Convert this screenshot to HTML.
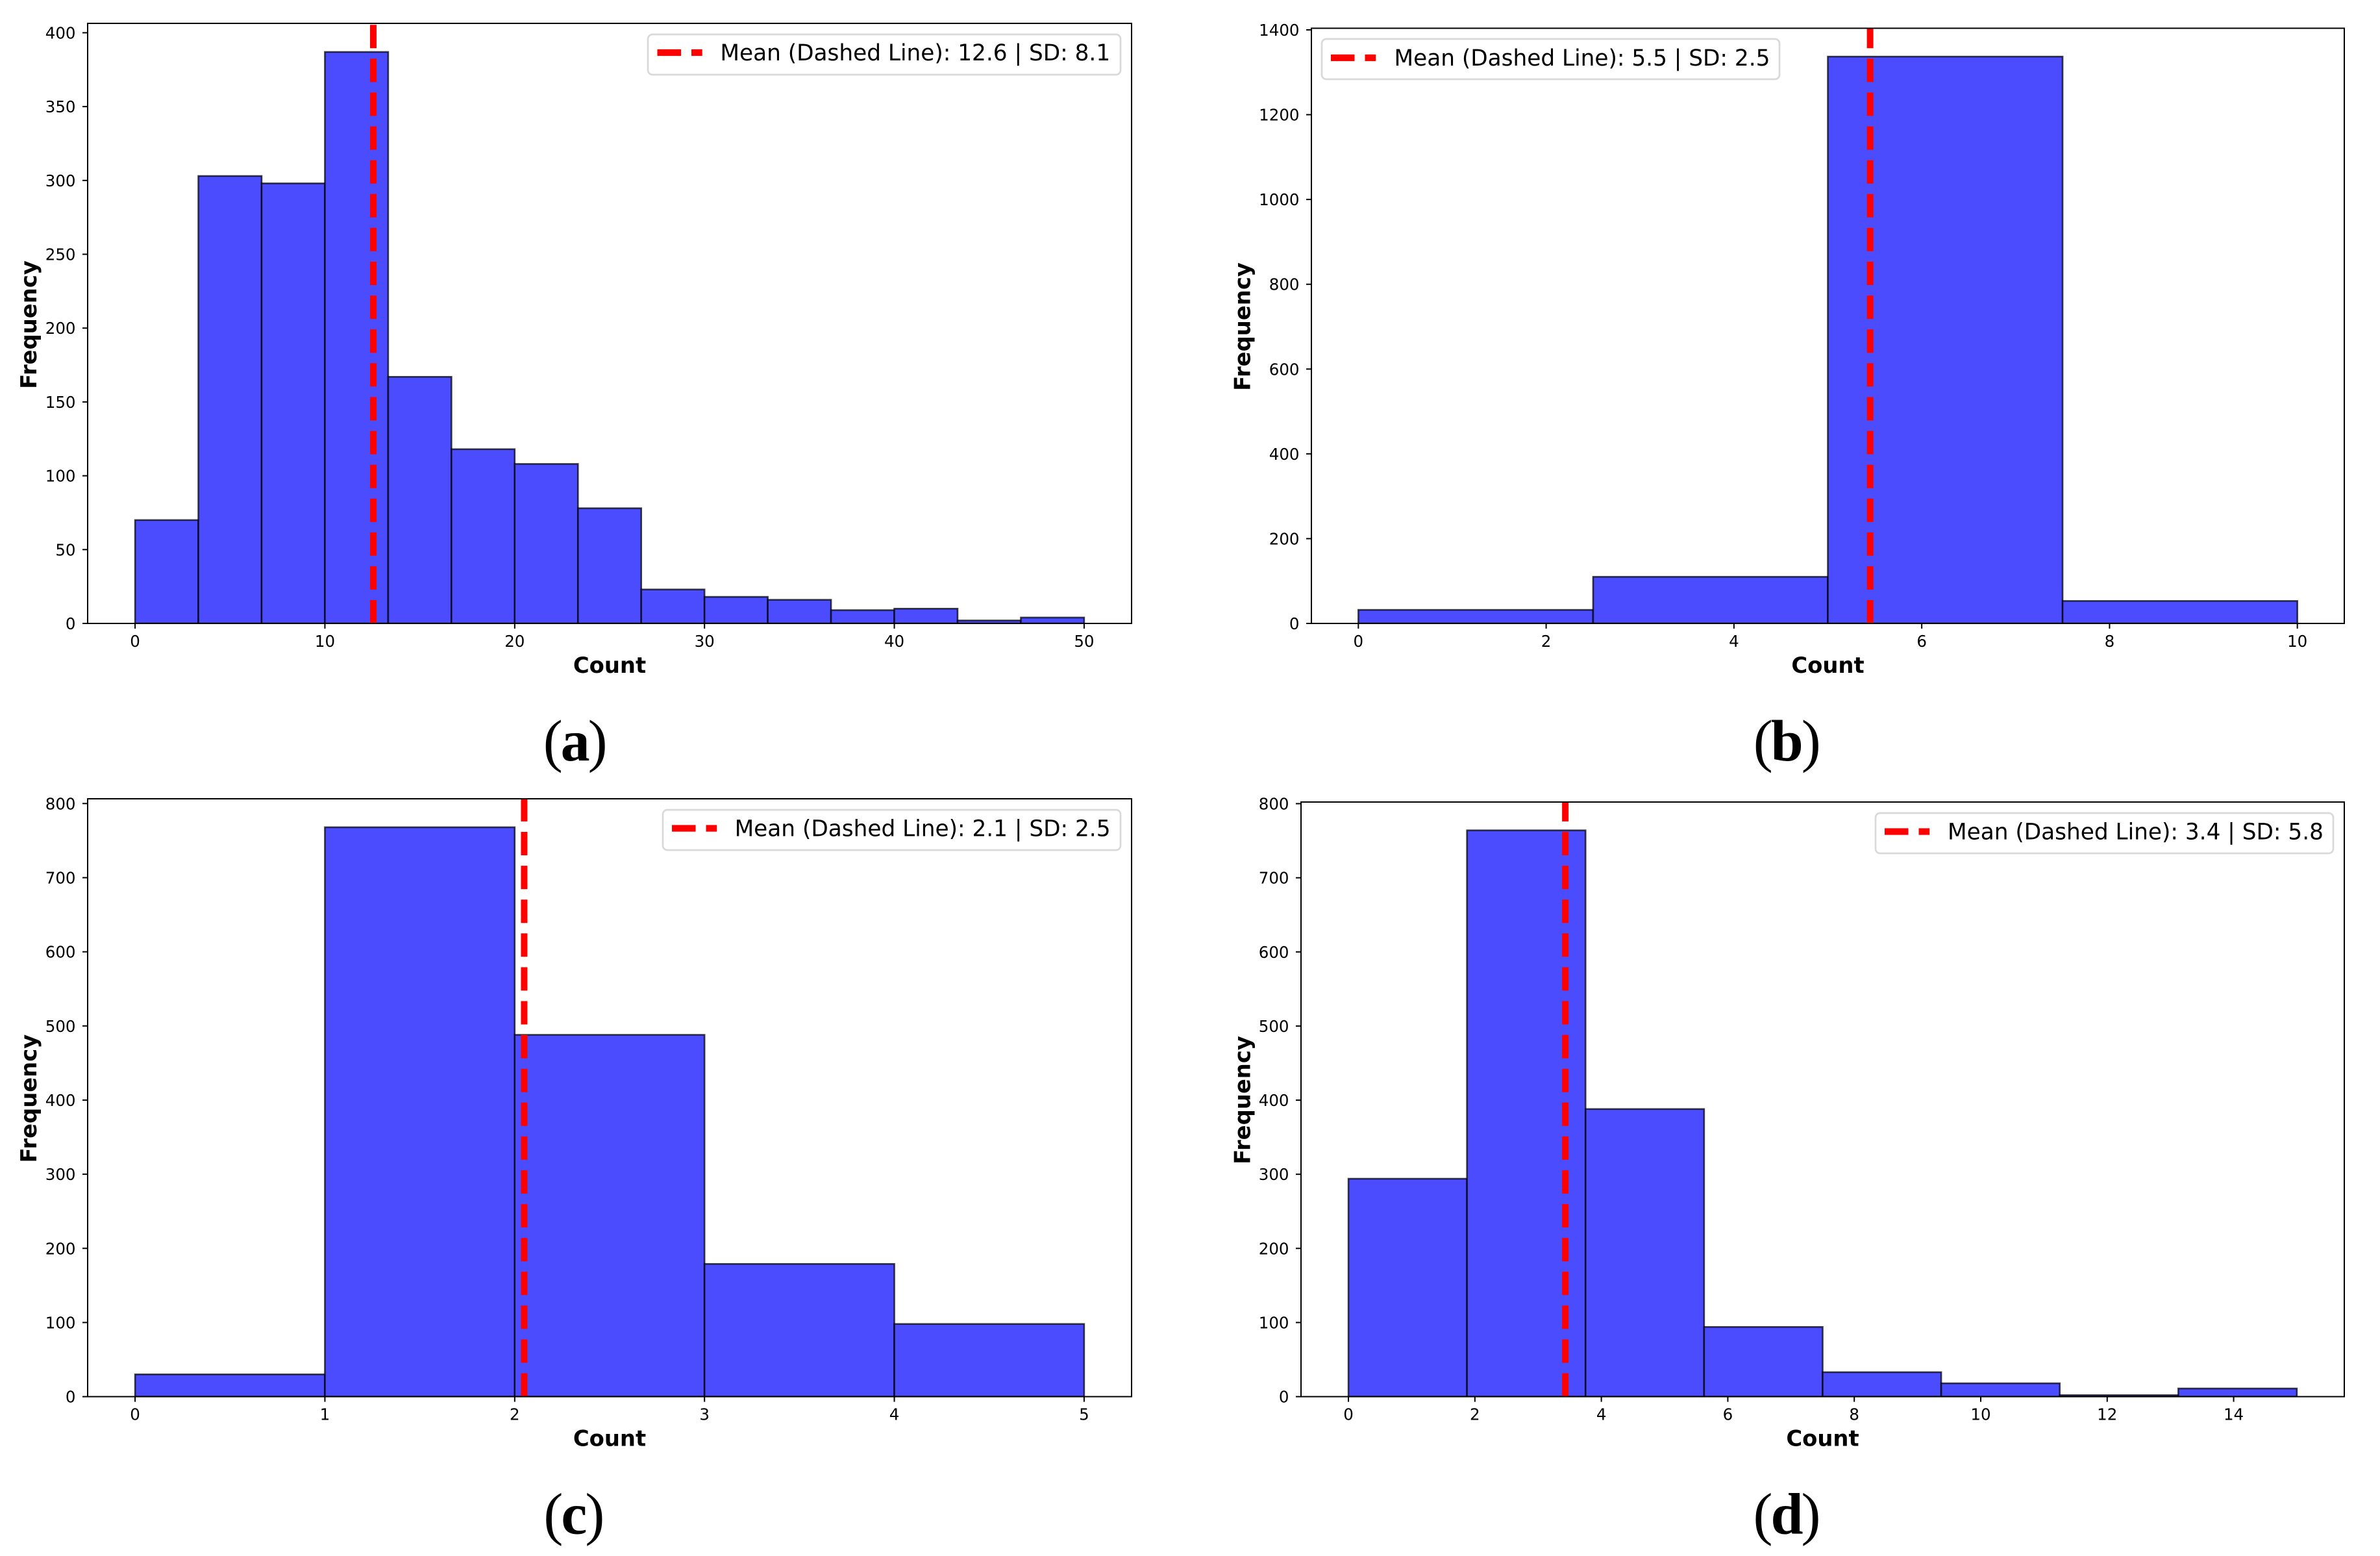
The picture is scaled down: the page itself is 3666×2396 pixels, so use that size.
<!DOCTYPE html>
<html lang="en">
<head>
<meta charset="utf-8">
<title>Count histograms (a)–(d)</title>
<style>
  html, body { margin: 0; padding: 0; background: #fff; }
  svg { display: block; }
  .tick-label { font-family: "DejaVu Sans", "Liberation Sans", sans-serif; font-size: 24.5px; fill: #000; }
  .axis-title { font-family: "DejaVu Sans", "Liberation Sans", sans-serif; font-size: 33.8px; font-weight: bold; fill: #000; text-anchor: middle; }
  .legend-text { font-family: "DejaVu Sans", "Liberation Sans", sans-serif; font-size: 34.3px; fill: #000; }
  .legend-box { fill: #fff; stroke: #d9d9d9; stroke-width: 2.7; }
  .caption { font-family: "Liberation Serif", serif; font-size: 90px; font-weight: normal; fill: #000; text-anchor: start; letter-spacing: -3px; }
  .caption .letter { font-weight: bold; }
</style>
</head>
<body>
<svg id="figure" xmlns="http://www.w3.org/2000/svg" width="3666" height="2396" viewBox="0 0 3666 2396">
  <rect x="0" y="0" width="3666" height="2396" fill="#fff"/>

  <g id="panel-a">
    <g id="plot-a"></g>
    <text class="axis-title" x="939" y="1036">Count</text>
    <text class="axis-title" transform="translate(56 500) rotate(-90)">Frequency</text>
    <g>
      <rect class="legend-box" x="998" y="53" width="728" height="62" rx="7"/>
      <line x1="1012.5" x2="1081.7" y1="81" y2="81" stroke="#f00" stroke-width="10.3" stroke-dasharray="36.5 16"/>
      <text class="legend-text" x="1109.4" y="93">Mean (Dashed Line): 12.6 | SD: 8.1</text>
    </g>
    <text class="caption" x="836.7" y="1171">(<tspan class="letter">a</tspan>)</text>
  </g>

  <g id="panel-b">
    <g id="plot-b"></g>
    <text class="axis-title" x="2815.5" y="1036">Count</text>
    <text class="axis-title" transform="translate(1925.5 503) rotate(-90)">Frequency</text>
    <g>
      <rect class="legend-box" x="2036" y="60" width="705" height="62" rx="7"/>
      <line x1="2050" x2="2119.2" y1="89" y2="89" stroke="#f00" stroke-width="10.3" stroke-dasharray="36.5 16"/>
      <text class="legend-text" x="2147.5" y="101">Mean (Dashed Line): 5.5 | SD: 2.5</text>
    </g>
    <text class="caption" x="2700.7" y="1171">(<tspan class="letter">b</tspan>)</text>
  </g>

  <g id="panel-c">
    <g id="plot-c"></g>
    <text class="axis-title" x="939" y="2226.6">Count</text>
    <text class="axis-title" transform="translate(56 1691.6) rotate(-90)">Frequency</text>
    <g>
      <rect class="legend-box" x="1021" y="1247" width="705" height="62" rx="7"/>
      <line x1="1035" x2="1104.2" y1="1275.5" y2="1275.5" stroke="#f00" stroke-width="10.3" stroke-dasharray="36.5 16"/>
      <text class="legend-text" x="1131.6" y="1287.5">Mean (Dashed Line): 2.1 | SD: 2.5</text>
    </g>
    <text class="caption" x="837.4" y="2361.6">(<tspan class="letter">c</tspan>)</text>
  </g>

  <g id="panel-d">
    <g id="plot-d"></g>
    <text class="axis-title" x="2807.5" y="2226.6">Count</text>
    <text class="axis-title" transform="translate(1925.5 1694) rotate(-90)">Frequency</text>
    <g>
      <rect class="legend-box" x="2889" y="1252" width="705" height="62" rx="7"/>
      <line x1="2903" x2="2972.2" y1="1280.5" y2="1280.5" stroke="#f00" stroke-width="10.3" stroke-dasharray="36.5 16"/>
      <text class="legend-text" x="3000" y="1292.5">Mean (Dashed Line): 3.4 | SD: 5.8</text>
    </g>
    <text class="caption" x="2700.5" y="2361.6">(<tspan class="letter">d</tspan>)</text>
  </g>
</svg>

<script>
// Data
var countsA = [70, 303, 298, 387, 167, 118, 108, 78, 23, 18, 16, 9, 10, 2, 4];
var countsB = [32, 110, 1337, 53];
var countsC = [30, 768, 488, 179, 98];
var countsD = [294, 764, 388, 94, 33, 18, 2, 11];

var rangeA = [0, 50];
var rangeB = [0, 10];
var rangeC = [0, 5];
var rangeD = [0, 15];

var meanA = 12.55;
var meanB = 5.45;
var meanC = 2.05;
var meanD = 3.43;

var yMaxA = 406.35;
var yMaxB = 1403.85;
var yMaxC = 806.4;
var yMaxD = 802.2;

var xTicksA = [0, 10, 20, 30, 40, 50];
var xTicksB = [0, 2, 4, 6, 8, 10];
var xTicksC = [0, 1, 2, 3, 4, 5];
var xTicksD = [0, 2, 4, 6, 8, 10, 12, 14];

var yTicksA = [0, 50, 100, 150, 200, 250, 300, 350, 400];
var yTicksB = [0, 200, 400, 600, 800, 1000, 1200, 1400];
var yTicksC = [0, 100, 200, 300, 400, 500, 600, 700, 800];
var yTicksD = [0, 100, 200, 300, 400, 500, 600, 700, 800];

var NS = 'http://www.w3.org/2000/svg';

function make(tag, attrs, parent) {
  var node = document.createElementNS(NS, tag);
  for (var k in attrs) node.setAttribute(k, attrs[k]);
  parent.appendChild(node);
  return node;
}

function drawPanel(id, box, counts, range, mean, yMax, xTicks, yTicks) {
  var root = document.getElementById('plot-' + id);
  var pad = (range[1] - range[0]) * 0.05;
  var xMin = range[0] - pad;
  var xMax = range[1] + pad;
  var xScale = function (v) { return box.left + (v - xMin) / (xMax - xMin) * (box.right - box.left); };
  var yScale = function (v) { return box.bottom - v / yMax * (box.bottom - box.top); };
  var binWidth = (range[1] - range[0]) / counts.length;

  var clip = make('clipPath', { id: 'clip-' + id }, root);
  make('rect', { x: box.left, y: box.top, width: box.right - box.left, height: box.bottom - box.top }, clip);

  var bars = make('g', { 'clip-path': 'url(#clip-' + id + ')' }, root);
  
  
  counts.forEach(function (c, i) {
    var x0 = xScale(range[0] + i * binWidth);
    var x1 = xScale(range[0] + (i + 1) * binWidth);
    var bar = make('rect', {
      x: x0, y: yScale(c), width: x1 - x0, height: yScale(0) - yScale(c),
      fill: '#4c4cff', stroke: '#000', 'stroke-opacity': 0.72, 'stroke-width': 2.6
    }, bars);
    
    
  });

  var meanLine = make('line', {
    x1: xScale(mean), x2: xScale(mean), y1: box.bottom, y2: box.top,
    stroke: '#f00', 'stroke-width': 10, 'stroke-dasharray': '36 16.1',
    'clip-path': 'url(#clip-' + id + ')'
  }, root);
  
  

  var xAxis = make('g', {}, root);
  
  
  xTicks.forEach(function (t) {
    var x = xScale(t);
    var tick = make('line', { x1: x, x2: x, y1: box.bottom, y2: box.bottom + 8, stroke: '#000', 'stroke-width': 2 }, xAxis);
    
    
    var label = make('text', { x: x, y: box.bottom + 36, 'text-anchor': 'middle', 'class': 'tick-label' }, xAxis);
    
    
    label.textContent = String(t);
  });

  var yAxis = make('g', {}, root);
  
  
  yTicks.forEach(function (t) {
    var y = yScale(t);
    var tick = make('line', { x1: box.left - 8, x2: box.left, y1: y, y2: y, stroke: '#000', 'stroke-width': 2 }, yAxis);
    
    
    var label = make('text', { x: box.left - 18.5, y: y + 9, 'text-anchor': 'end', 'class': 'tick-label' }, yAxis);
    
    
    label.textContent = String(t);
  });

  var frame = make('rect', {
    x: box.left, y: box.top, width: box.right - box.left, height: box.bottom - box.top,
    fill: 'none', stroke: '#000', 'stroke-width': 2
  }, root);
  
  
}

drawPanel('a', { left: 135, right: 1743, top: 36, bottom: 960 }, countsA, rangeA, meanA, yMaxA, xTicksA, yTicksA);
drawPanel('b', { left: 2020, right: 3611, top: 43.5, bottom: 960 }, countsB, rangeB, meanB, yMaxB, xTicksB, yTicksB);
drawPanel('c', { left: 135, right: 1743, top: 1230, bottom: 2150.6 }, countsC, rangeC, meanC, yMaxC, xTicksC, yTicksC);
drawPanel('d', { left: 2004, right: 3611, top: 1235, bottom: 2150.6 }, countsD, rangeD, meanD, yMaxD, xTicksD, yTicksD);
</script>
</body>
</html>
